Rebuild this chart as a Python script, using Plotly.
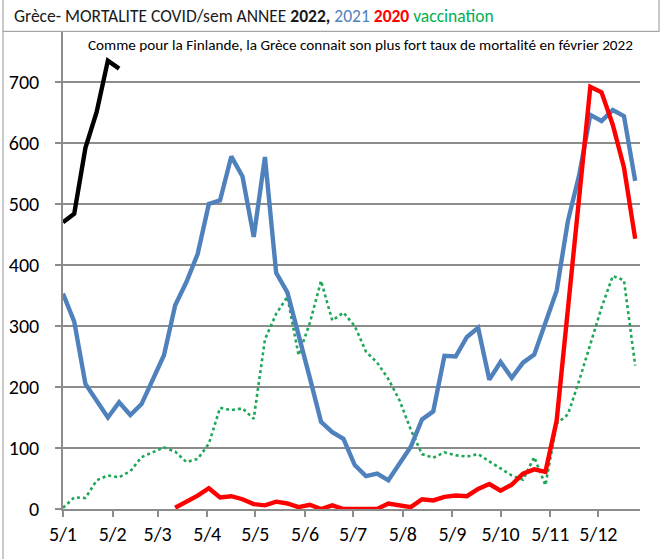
import datetime as dt
import plotly.graph_objects as go

# ---------------- data (weekly, starting 5 Jan) ----------------
start = dt.date(2021, 1, 5)
n_weeks = 52
weeks = [start + dt.timedelta(days=7 * i) for i in range(n_weeks)]

deaths_2022 = [470, 484, 592, 651, 735, 722]

deaths_2021 = [353, 307, 205, 177, 150, 175, 154, 172, 211, 252,
               334, 372, 418, 500, 506, 578, 545, 446, 577, 387,
               355, 287, 215, 143, 126, 115, 72, 54, 58, 47,
               75, 102, 147, 160, 251, 250, 282, 297, 212, 241,
               215, 240, 253, 307, 358, 472, 547, 646, 636, 654,
               644, 538]

deaths_2020 = [None] * 10 + [2, 11, 22, 34, 19, 21, 16, 8, 6, 12,
                             9, 3, 7, 0, 6, 0, 0, 0, 0, 9,
                             6, 3, 16, 14, 20, 22, 21, 33, 41, 30,
                             40, 58, 65, 61, 145, 328, 510, 692, 683, 630,
                             560, 443]

vaccination = [2, 19, 18, 47, 55, 52, 62, 85, 93, 101,
               94, 77, 82, 107, 166, 162, 165, 148, 278, 320,
               348, 252, 305, 374, 309, 322, 300, 258, 240, 213,
               178, 130, 90, 84, 93, 88, 86, 90, 78, 66,
               55, 48, 85, 39, 140, 155, 210, 270, 330, 382,
               375, 235]

tick_dates = [dt.date(2021, m, 5) for m in range(1, 13)]
tick_labels = ["5/1", "5/2", "5/3", "5/4", "5/5", "5/6", "5/7", "5/8",
               "5/9", "5/10", "5/11", "5/12"]
y_ticks = [0, 100, 200, 300, 400, 500, 600, 700]

title_html = ("Grèce- MORTALITE COVID/sem ANNEE <b>2022,</b> "
              "<span style='color:#4F81BD'>2021</span> "
              "<b><span style='color:#FF0000'>2020</span></b> "
              "<span style='color:#00B050'>vaccination</span>")
note_text = ("Comme pour la Finlande, la Grèce connait son plus fort taux "
             "de mortalité en février 2022")

# ---------------- layout geometry (pixels) ----------------
W, H = 661, 559
L, R = 63, 640          # plot area left / right
T, B = 20.7, 508.7      # plot area top (value 800) / bottom (value 0)


def px_x(p):
    return (p - L) / (R - L)


def px_y(p):
    return (B - p) / (B - T)


FONT = "Carlito, Calibri, 'Liberation Sans Narrow', 'Liberation Sans', Arial, sans-serif"

fig = go.Figure()
fig.add_trace(go.Scatter(x=weeks, y=vaccination, mode="lines", name="vaccination",
                         line=dict(color="#1DA757", width=2.6, dash="dot")))
fig.add_trace(go.Scatter(x=weeks, y=deaths_2021, mode="lines", name="2021",
                         line=dict(color="#4F81BD", width=4.4)))
fig.add_trace(go.Scatter(x=weeks, y=deaths_2020, mode="lines", name="2020",
                         line=dict(color="#FF0000", width=4.4)))
fig.add_trace(go.Scatter(x=weeks[:len(deaths_2022)], y=deaths_2022, mode="lines",
                         name="2022", line=dict(color="#000000", width=4.4)))

fig.update_layout(
    width=W, height=H,
    margin=dict(l=L, r=W - R, t=T, b=H - B, pad=0, autoexpand=False),
    paper_bgcolor="white", plot_bgcolor="white",
    showlegend=False,
    font=dict(family=FONT, color="#000000"),
    xaxis=dict(
        type="date",
        range=["2021-01-05", "2021-12-31"],
        tickvals=tick_dates, ticktext=tick_labels,
        showgrid=False, zeroline=False,
        showline=True, linecolor="#8C8C8C", linewidth=1.5,
        ticks="outside", ticklen=6, tickcolor="#8C8C8C", tickwidth=1.5,
        tickfont=dict(size=20, family=FONT, color="#000"),
        ticklabelstandoff=0,
        automargin=False,
    ),
    yaxis=dict(
        range=[0, 800],
        tickvals=y_ticks,
        showgrid=True, gridcolor="#8C8C8C", gridwidth=1.5,
        zeroline=False,
        showline=True, linecolor="#8C8C8C", linewidth=1.5,
        ticks="outside", ticklen=6, tickcolor="#8C8C8C", tickwidth=1.5,
        tickfont=dict(size=20, family=FONT, color="#000"),
        ticklabelstandoff=12,
        automargin=False,
    ),
    shapes=[
        # title box (covers top of plot area)
        dict(type="rect", xref="paper", yref="paper", layer="above",
             x0=px_x(3), x1=px_x(659), y0=px_y(31), y1=px_y(-2),
             fillcolor="white", line=dict(color="#A6A6A6", width=1.2)),
        # outer left border
        dict(type="line", xref="paper", yref="paper", layer="above",
             x0=px_x(3), x1=px_x(3), y0=px_y(31), y1=px_y(H + 2),
             line=dict(color="#A6A6A6", width=1.2)),
    ],
    annotations=[
        dict(text=title_html, xref="paper", yref="paper",
             x=px_x(12), y=px_y(16), xanchor="left", yanchor="middle",
             showarrow=False, font=dict(size=17.5, family=FONT, color="#1a1a1a")),
        dict(text=note_text, xref="paper", yref="paper",
             x=px_x(360), y=px_y(45), xanchor="center", yanchor="middle",
             showarrow=False, font=dict(size=15.2, family=FONT, color="#000")),
    ],
)

fig.write_html("out.html", config={"displayModeBar": False},
               post_script="document.body.style.margin='0px';document.body.style.padding='0px';")
